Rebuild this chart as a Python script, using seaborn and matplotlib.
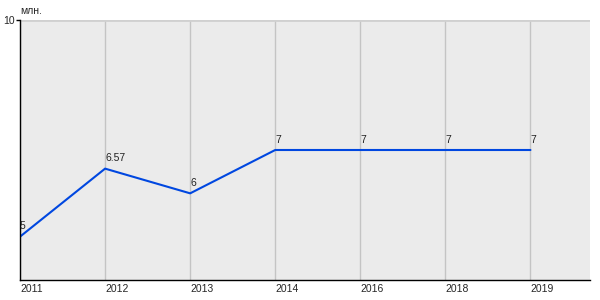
import matplotlib
matplotlib.use("Agg")
import matplotlib.pyplot as plt
import seaborn as sns
import pandas as pd

years = ["2011", "2012", "2013", "2014", "2016", "2018", "2019"]
values = [5, 6.57, 6, 7, 7, 7, 7]
labels = ["5", "6.57", "6", "7", "7", "7", "7"]

sns.set_theme(style="white")
plt.rcParams['font.family'] = ['Liberation Sans', 'DejaVu Sans']

df = pd.DataFrame({"idx": range(len(years)), "value": values})

fig = plt.figure(figsize=(6, 3), dpi=100)
ax = fig.add_axes([20/600, 20/300, 570/600, 260/300])
ax.set_facecolor("#ebebeb")

sns.lineplot(data=df, x="idx", y="value", ax=ax, color="#0047e0", linewidth=1.5)

ax.set_xlim(0, 6.7)
ax.set_ylim(4, 10)
ax.set_xticks(range(len(years)))
ax.set_xticklabels(years, fontsize=7.5, ha="left")
ax.set_yticks([10])
ax.set_yticklabels(["10"], fontsize=7.5)
ax.tick_params(axis="x", length=0, pad=3)
ax.tick_params(axis="y", length=3, pad=1, left=True, color="black", width=1)
for x in range(len(years)):
    ax.axvline(x, color="#c4c4c4", lw=1, zorder=0)
ax.axhline(10, color="#d0d0d0", lw=2, zorder=0)

for i, (v, t) in enumerate(zip(values, labels)):
    ax.text(i, v + 0.12, t, fontsize=7.5, ha="left", va="bottom", color="#222222")

ax.set_xlabel("")
ax.set_ylabel("")
for s in ["top", "right"]:
    ax.spines[s].set_visible(False)
ax.spines["left"].set_color("black")
ax.spines["bottom"].set_color("black")
ax.spines["left"].set_linewidth(1)
ax.spines["bottom"].set_linewidth(1)

fig.text(20/600, 1 - 11/300, "млн.", fontsize=7.5, ha="left", va="center")

fig.savefig("out.png", dpi=100)
